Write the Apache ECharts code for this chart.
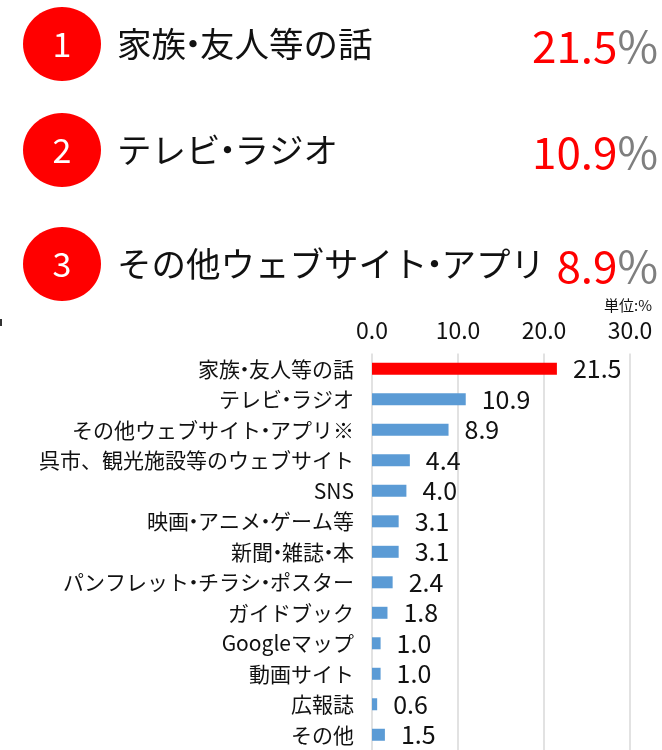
<!DOCTYPE html>
<html>
<head>
<meta charset="utf-8">
<script src="https://cdn.jsdelivr.net/npm/echarts@6/dist/echarts.min.js"></script>
<style>
  html, body { margin: 0; padding: 0; background: #fff; }
  #chart { width: 662px; height: 750px; }
</style>
</head>
<body>
<div id="chart"></div>
<script>
// 上位3項目
const rankLabels = ['家族・友人等の話', 'テレビ・ラジオ', 'その他ウェブサイト・アプリ'];
const rankValues = [21.5, 10.9, 8.9];

// 棒グラフのデータ
const categories = [
    '家族・友人等の話', 'テレビ・ラジオ', 'その他ウェブサイト・アプリ※',
    '呉市、観光施設等のウェブサイト', 'SNS', '映画・アニメ・ゲーム等',
    '新聞・雑誌・本', 'パンフレット・チラシ・ポスター', 'ガイドブック',
    'Googleマップ', '動画サイト', '広報誌', 'その他'
];
const values = [21.5, 10.9, 8.9, 4.4, 4.0, 3.1, 3.1, 2.4, 1.8, 1.0, 1.0, 0.6, 1.5];
const tickValues = [0, 10, 20, 30];

const font = '"Noto Sans CJK JP", "Noto Sans", sans-serif';
const rankY = [44, 150, 264];

// 中黒「・」を狭くする(rich text)
function narrowDot(s) {
    return s.split('・').map(t => t ? '{t|' + t + '}' : '').join('{d|・}');
}

const chart = echarts.init(document.getElementById('chart'));

// 上のランキング部分
const graphics = [];
rankLabels.forEach((name, i) => {
    graphics.push({
        type: 'ellipse',
        shape: { cx: 62, cy: rankY[i], rx: 39, ry: 37 },
        style: { fill: '#ff0000' }
    });
    graphics.push({
        type: 'text',
        x: 62, y: rankY[i],
        style: {
            text: String(i + 1), fill: '#fff', font: '34px ' + font,
            align: 'center', verticalAlign: 'middle'
        }
    });
    graphics.push({
        type: 'text',
        x: 117, y: rankY[i],
        style: {
            text: narrowDot(name),
            align: 'left', verticalAlign: 'middle',
            rich: {
                t: { fill: '#111', font: '34.5px ' + font },
                d: { fill: '#111', font: '34.5px ' + font, width: 14, align: 'center' }
            }
        }
    });
    graphics.push({
        type: 'text',
        x: 658, y: rankY[i] + 2,
        style: {
            text: '{a|' + rankValues[i].toFixed(1) + '}{b|%}',
            align: 'right', verticalAlign: 'middle',
            rich: {
                a: { fill: '#ff0000', font: '44px ' + font },
                b: { fill: '#7f7f7f', font: '44px ' + font }
            }
        }
    });
});
graphics.push({
    type: 'text',
    x: 652, y: 305,
    style: {
        text: '単位:%', fill: '#111', font: '15px ' + font,
        align: 'right', verticalAlign: 'middle'
    }
});
graphics.push({
    type: 'rect',
    shape: { x: 0, y: 319, width: 2, height: 7 },
    style: { fill: '#333' }
});

const option = {
    animation: false,
    graphic: graphics,
    grid: {
        left: 372,
        width: 258,
        top: 353.6,
        height: 400.4,
        containLabel: false
    },
    xAxis: {
        type: 'value',
        position: 'top',
        min: tickValues[0],
        max: tickValues[tickValues.length - 1],
        interval: 10,
        axisLine: { show: false },
        axisTick: { show: false },
        axisLabel: {
            margin: 12,
            fontSize: 23,
            fontFamily: font,
            color: '#111',
            formatter: v => v.toFixed(1)
        },
        splitLine: { show: true, lineStyle: { color: '#d9d9d9', width: 1.5 } }
    },
    yAxis: {
        type: 'category',
        inverse: true,
        data: categories,
        axisLine: { show: false },
        axisTick: { show: false },
        axisLabel: {
            margin: 18,
            formatter: v => narrowDot(v),
            rich: {
                t: { fontSize: 21, fontFamily: font, color: '#111' },
                d: { fontSize: 21, fontFamily: font, color: '#111', width: 9, align: 'center' }
            }
        }
    },
    series: [{
        type: 'bar',
        data: values.map((v, i) => ({
            value: v,
            itemStyle: { color: i === 0 ? '#ff0000' : '#5b9bd5' }
        })),
        barWidth: 12,
        label: {
            show: true,
            position: 'right',
            distance: 16,
            fontSize: 25,
            fontFamily: font,
            color: '#111',
            formatter: p => p.value.toFixed(1)
        }
    }]
};
chart.setOption(option);
</script>
</body>
</html>
